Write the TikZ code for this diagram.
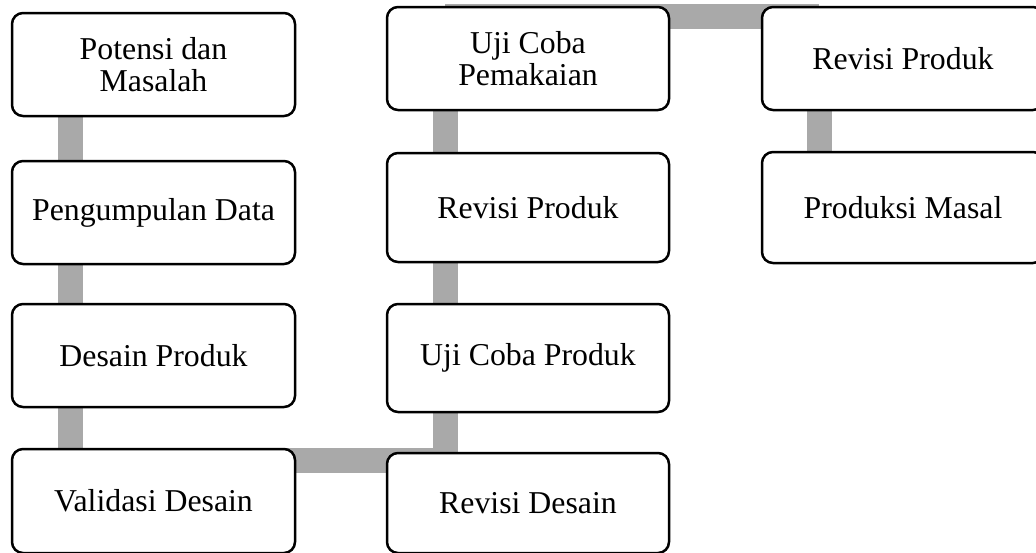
\documentclass[tikz,border=0pt]{standalone}
\usepackage{fontspec}
\setmainfont{Liberation Serif}
\usetikzlibrary{calc}
\definecolor{conn}{HTML}{A9A9A9}
\pgfdeclarelayer{bg}
\pgfsetlayers{bg,main}
\tikzset{
  box/.style={draw=black, line width=1.25pt, rounded corners=5.5pt, fill=white,
    align=center, inner sep=0pt, font=\fontsize{15.9}{16}\selectfont},
  link/.style={draw=conn, line width=12.5pt, line cap=butt}
}
\begin{document}
\begin{tikzpicture}[x=0.5pt,y=-0.5pt]
\useasboundingbox (0,0) rectangle (1036,552);
\clip (0,0) rectangle (1036,552);
% column 1
\node[box, minimum width=141.5pt, minimum height=51.5pt] (pot) at (153.5,64.5) {Potensi dan\\Masalah};
\node[box, minimum width=141.5pt, minimum height=51.5pt] (pen) at (153.5,212.5) {Pengumpulan Data};
\node[box, minimum width=141.5pt, minimum height=51.5pt] (des) at (153.5,355.5) {Desain Produk};
\node[box, minimum width=141.5pt, minimum height=52pt] (val) at (153.5,501) {Validasi Desain};
% column 2
\node[box, minimum width=141pt, minimum height=51.5pt] (ujp) at (528,58.5) {Uji Coba\\Pemakaian};
\node[box, minimum width=141pt, minimum height=54.5pt] (rpa) at (528,207.5) {Revisi Produk};
\node[box, minimum width=141pt, minimum height=54pt] (ucp) at (528,358) {Uji Coba Produk};
\node[box, minimum width=141pt, minimum height=50pt] (rde) at (528,503) {Revisi Desain};
% column 3
\node[box, minimum width=141pt, minimum height=51.5pt] (rpb) at (903,58.5) {Revisi Produk};
\node[box, minimum width=141pt, minimum height=55.5pt] (pma) at (903,207.5) {Produksi Masal};
% connector guides
\coordinate (c1) at (70,0);
\coordinate (c2) at (445,0);
\coordinate (c3) at (819,0);
\coordinate (rb) at (0,460.5);
\coordinate (rt) at (0,16);
\begin{pgfonlayer}{bg}
\draw[link] (pot.center -| c1) -- (rb -| c1);
\draw[link] (rb -| c1) -- (rb -| c2);
\draw[link] (rb -| c2) -- (rt -| c2);
\draw[link] (rt -| c2) -- (rt -| c3);
\draw[link] (rt -| c3) -- (pma.center -| c3);
\end{pgfonlayer}
\end{tikzpicture}
\end{document}
